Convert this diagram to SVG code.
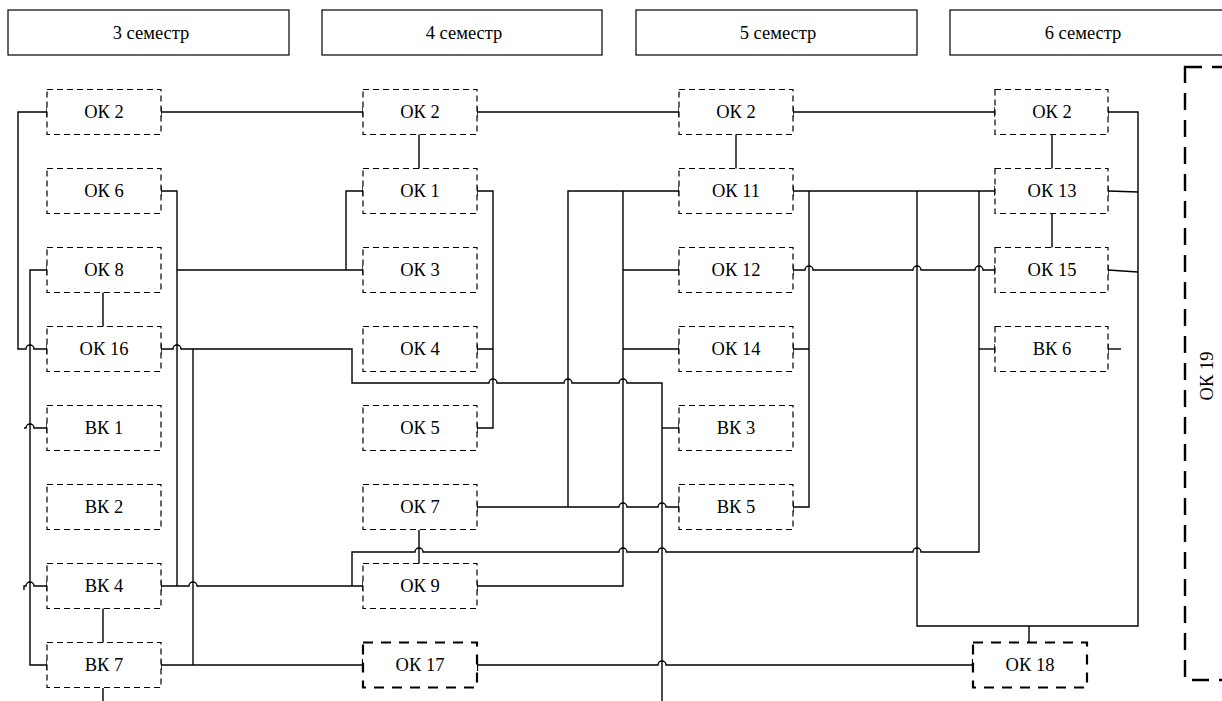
<svg xmlns="http://www.w3.org/2000/svg" width="1222" height="701" viewBox="0 0 1222 701">
<style>
.hdr{fill:#fff;stroke:#000;stroke-width:1.2}
.nd{fill:#fff;stroke:#000;stroke-width:1.2;stroke-dasharray:6,4}
.nd2{fill:#fff;stroke:#000;stroke-width:2.2;stroke-dasharray:10,8}
.big{fill:none;stroke:#000;stroke-width:2.4;stroke-dasharray:17,10}
text{font-family:"Liberation Serif","Times New Roman",serif;font-size:18.5px;fill:#000;text-anchor:middle}
.ln{fill:none;stroke:#000;stroke-width:1.4}
.tk{fill:none;stroke:#000;stroke-width:1.4}
.tk2{fill:none;stroke:#000;stroke-width:2.2}
</style>
<rect width="1222" height="701" fill="#fff"/>
<g id="headers">
<rect class="hdr" x="8" y="10" width="281" height="45"/><text x="151" y="39">3 семестр</text>
<rect class="hdr" x="322" y="10" width="280" height="45"/><text x="464" y="39">4 семестр</text>
<rect class="hdr" x="636" y="10" width="281" height="45"/><text x="778" y="39">5 семестр</text>
<rect class="hdr" x="950" y="10" width="290" height="45"/><text x="1083" y="39">6 семестр</text>
</g>
<g id="connectors">
<path class="ln" d="M161,112 H363 M477,112 H679 M793,112 H995"/>
<path class="ln" d="M47,112 H18 V349 H26 a4,4 0 0 1 8,0 H47"/>
<path class="ln" d="M47,270 H30 V665 H47"/>
<path class="ln" d="M47,428 H34 a4,4 0 0 0 -8,0 H24"/>
<path class="ln" d="M47,586 H34 a4,4 0 0 0 -8,0 H24 v4"/>
<path class="ln" d="M103,292 V327 M103,608 V643 M103,688 V701"/>
<path class="ln" d="M161,191 H177 V586"/>
<path class="ln" d="M177,270 H363"/>
<path class="ln" d="M363,191 H346 V270"/>
<path class="ln" d="M161,349 H173 a4,4 0 0 1 8,0 H352 V383 H489 a4,4 0 0 1 8,0 H564 a4,4 0 0 1 8,0 H619 a4,4 0 0 1 8,0 H662 V701"/>
<path class="ln" d="M193,349 V665"/>
<path class="ln" d="M161,665 H363"/>
<path class="ln" d="M161,586 H189 a4,4 0 0 1 8,0 H363"/>
<path class="ln" d="M352,586 V552 H415 a4,4 0 0 1 8,0 H619 a4,4 0 0 1 8,0 H658 a4,4 0 0 1 8,0 H913 a4,4 0 0 1 8,0 H979 V191"/>
<path class="ln" d="M419,134 V169 M419,530 V564"/>
<path class="ln" d="M477,191 H493 V428 H477 M477,349 H493"/>
<path class="ln" d="M679,191 H568 V507"/>
<path class="ln" d="M623,191 V586 H477 M623,270 H679 M623,349 H679"/>
<path class="ln" d="M477,507 H619 a4,4 0 0 1 8,0 H658 a4,4 0 0 1 8,0 H679"/>
<path class="ln" d="M662,428 H679"/>
<path class="ln" d="M477,665 H658 a4,4 0 0 1 8,0 H973"/>
<path class="ln" d="M736,134 V169"/>
<path class="ln" d="M793,191 H995"/>
<path class="ln" d="M809,191 V507 H793 M793,349 H809"/>
<path class="ln" d="M793,270 H805 a4,4 0 0 1 8,0 H913 a4,4 0 0 1 8,0 H975 a4,4 0 0 1 8,0 H995"/>
<path class="ln" d="M917,191 V626 H1138 V112 H1108"/>
<path class="ln" d="M979,349 H995"/>
<path class="ln" d="M1052,134 V169 M1052,213 V248"/>
<path class="ln" d="M1108,191 L1138,192 M1108,270 L1138,272"/>
<path class="ln" d="M1108,349 H1121"/>
<path class="ln" d="M1029,626 V643"/>
<path class="tk" d="M47,107v10 M161,107v10 M161,186v10 M47,265v10 M47,344v10 M161,344v10 M47,423v10 M47,581v10 M161,581v10 M47,660v10 M161,660v10
M363,107v10 M477,107v10 M363,186v10 M477,186v10 M363,265v10 M477,344v10 M477,423v10 M477,502v10 M363,581v10 M477,581v10
M679,107v10 M793,107v10 M679,186v10 M793,186v10 M679,265v10 M793,265v10 M679,344v10 M793,344v10 M679,423v10 M679,502v10 M793,502v10
M995,107v10 M1108,107v10 M995,186v10 M1108,186v10 M995,265v10 M1108,265v10 M995,344v10 M1108,344v10"/>
<path class="tk2" d="M363,659v12 M477,659v12 M973,659v12"/>
</g>
<g id="n-c1-ok2"><rect class="nd" x="47" y="89.5" width="114" height="45"/><text x="104" y="118">ОК 2</text></g>
<g id="n-c1-ok6"><rect class="nd" x="47" y="168.5" width="114" height="45"/><text x="104" y="197">ОК 6</text></g>
<g id="n-c1-ok8"><rect class="nd" x="47" y="247.5" width="114" height="45"/><text x="104" y="276">ОК 8</text></g>
<g id="n-c1-ok16"><rect class="nd" x="47" y="326.5" width="114" height="45"/><text x="104" y="355">ОК 16</text></g>
<g id="n-c1-bk1"><rect class="nd" x="47" y="405.5" width="114" height="45"/><text x="104" y="434">ВК 1</text></g>
<g id="n-c1-bk2"><rect class="nd" x="47" y="484.5" width="114" height="45"/><text x="104" y="513">ВК 2</text></g>
<g id="n-c1-bk4"><rect class="nd" x="47" y="563.5" width="114" height="45"/><text x="104" y="592">ВК 4</text></g>
<g id="n-c1-bk7"><rect class="nd" x="47" y="642.5" width="114" height="45"/><text x="104" y="671">ВК 7</text></g>
<g id="n-c2-ok2"><rect class="nd" x="363" y="89.5" width="114" height="45"/><text x="420" y="118">ОК 2</text></g>
<g id="n-c2-ok1"><rect class="nd" x="363" y="168.5" width="114" height="45"/><text x="420" y="197">ОК 1</text></g>
<g id="n-c2-ok3"><rect class="nd" x="363" y="247.5" width="114" height="45"/><text x="420" y="276">ОК 3</text></g>
<g id="n-c2-ok4"><rect class="nd" x="363" y="326.5" width="114" height="45"/><text x="420" y="355">ОК 4</text></g>
<g id="n-c2-ok5"><rect class="nd" x="363" y="405.5" width="114" height="45"/><text x="420" y="434">ОК 5</text></g>
<g id="n-c2-ok7"><rect class="nd" x="363" y="484.5" width="114" height="45"/><text x="420" y="513">ОК 7</text></g>
<g id="n-c2-ok9"><rect class="nd" x="363" y="563.5" width="114" height="45"/><text x="420" y="592">ОК 9</text></g>
<g id="n-c2-ok17"><rect class="nd2" x="363" y="642.5" width="114" height="45"/><text x="420" y="671">ОК 17</text></g>
<g id="n-c3-ok2"><rect class="nd" x="679" y="89.5" width="114" height="45"/><text x="736" y="118">ОК 2</text></g>
<g id="n-c3-ok11"><rect class="nd" x="679" y="168.5" width="114" height="45"/><text x="736" y="197">ОК 11</text></g>
<g id="n-c3-ok12"><rect class="nd" x="679" y="247.5" width="114" height="45"/><text x="736" y="276">ОК 12</text></g>
<g id="n-c3-ok14"><rect class="nd" x="679" y="326.5" width="114" height="45"/><text x="736" y="355">ОК 14</text></g>
<g id="n-c3-bk3"><rect class="nd" x="679" y="405.5" width="114" height="45"/><text x="736" y="434">ВК 3</text></g>
<g id="n-c3-bk5"><rect class="nd" x="679" y="484.5" width="114" height="45"/><text x="736" y="513">ВК 5</text></g>
<g id="n-c4-ok2"><rect class="nd" x="995" y="89.5" width="113" height="45"/><text x="1052" y="118">ОК 2</text></g>
<g id="n-c4-ok13"><rect class="nd" x="995" y="168.5" width="113" height="45"/><text x="1052" y="197">ОК 13</text></g>
<g id="n-c4-ok15"><rect class="nd" x="995" y="247.5" width="113" height="45"/><text x="1052" y="276">ОК 15</text></g>
<g id="n-c4-bk6"><rect class="nd" x="995" y="326.5" width="113" height="45"/><text x="1052" y="355">ВК 6</text></g>
<g id="n-ok18"><rect class="nd2" x="973" y="642.5" width="114" height="45"/><text x="1030" y="671">ОК 18</text></g>
<g id="n-ok19"><rect class="big" x="1185" y="67" width="70" height="613"/><text transform="translate(1213,376) rotate(-90)" x="0" y="0">ОК 19</text></g>
</svg>
